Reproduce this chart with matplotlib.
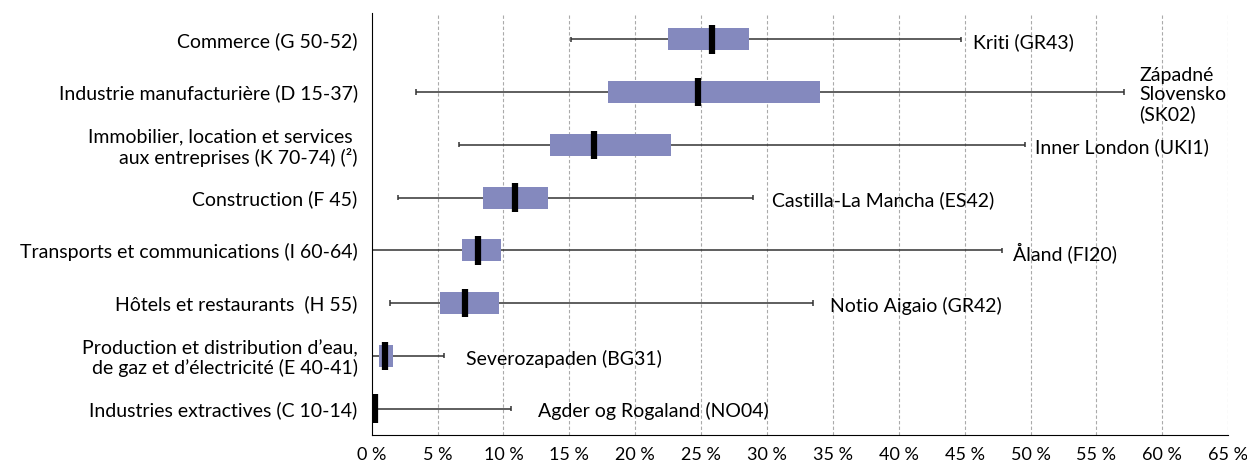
import numpy as np
import matplotlib
matplotlib.use("Agg")
import matplotlib.pyplot as plt

# Sector data (share in %), top to bottom
sectors = [
    "Commerce (G 50-52)",
    "Industrie manufacturière (D 15-37)",
    "Immobilier, location et services \naux entreprises (K 70-74) (²)",
    "Construction (F 45)",
    "Transports et communications (I 60-64)",
    "Hôtels et restaurants  (H 55)",
    "Production et distribution d’eau,\nde gaz et d’électricité (E 40-41)",
    "Industries extractives (C 10-14)",
]
low = [15.1, 3.4, 6.6, 2.0, 0.0, 1.4, 0.05, 0.0]
q1 = [22.5, 17.9, 13.5, 8.45, 6.85, 5.2, 0.55, 0.0]
median = [25.8, 24.8, 16.9, 10.9, 8.05, 7.05, 1.05, 0.25]
q3 = [28.6, 34.0, 22.7, 13.4, 9.8, 9.65, 1.6, 0.5]
high = [44.7, 57.1, 49.6, 28.9, 47.8, 33.5, 5.5, 10.55]
max_region = [
    "Kriti (GR43)",
    "Západné\nSlovensko\n(SK02)",
    "Inner London (UKI1)",
    "Castilla-La Mancha (ES42)",
    "Åland (FI20)",
    "Notio Aigaio (GR42)",
    "Severozapaden (BG31)",
    "Agder og Rogaland (NO04)",
]
label_gap = [9, 11, 7, 14, 8, 12, 16, 20]  # points

plt.rcParams['font.family'] = ['Lato', 'DejaVu Sans']

fig = plt.figure(figsize=(12.47, 4.63), dpi=100)
ax = fig.add_axes([0.298, 0.0605, 0.687, 0.9115])

y = np.arange(len(sectors))
box_col = '#8489be'
line_col = '#333333'

ax.hlines(y, low, high, color=line_col, lw=1.1, zorder=2)
ax.vlines(low, y - 0.05, y + 0.05, color=line_col, lw=1.1, zorder=2)
ax.vlines(high, y - 0.05, y + 0.05, color=line_col, lw=1.1, zorder=2)
ax.barh(y, np.array(q3) - np.array(q1), left=q1, height=0.42,
        color=box_col, zorder=3)
ax.vlines(median, y - 0.27, y + 0.27, color='black', lw=4.5, zorder=4)

for yi, hi, name, gap in zip(y, high, max_region, label_gap):
    ax.annotate(name, (hi, yi), xytext=(gap, -2), textcoords='offset points',
                va='center', ha='left', fontsize=14, linespacing=1.15)

ax.set_xlim(0, 65)
ax.set_ylim(len(sectors) - 0.5, -0.5)
ax.set_xticks(np.arange(0, 70, 5))
ax.set_xticklabels([f"{v} %" for v in range(0, 70, 5)], fontsize=13)
ax.set_yticks(y)
ax.set_yticklabels(sectors, fontsize=14, linespacing=1.15)
ax.tick_params(axis='both', length=0)
ax.tick_params(axis='y', pad=10)
ax.tick_params(axis='x', pad=9)

for v in range(5, 70, 5):
    ax.axvline(v, color='#aaaaaa', lw=0.8, ls=(0, (3, 2)), zorder=1)

ax.spines['top'].set_visible(False)
ax.spines['right'].set_visible(False)
ax.spines['left'].set_color('black')
ax.spines['bottom'].set_color('black')

fig.savefig('out.png', dpi=100)
